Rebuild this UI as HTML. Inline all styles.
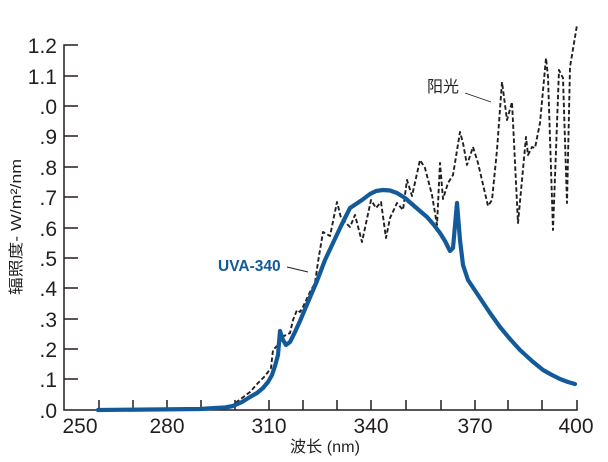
<!DOCTYPE html>
<html>
<head>
<meta charset="utf-8">
<style>
  html,body{margin:0;padding:0;background:#fff;}
  svg{display:block;}
  .tk{font-family:"Liberation Sans","Noto Sans CJK SC",sans-serif;font-size:21px;fill:#231f20;}
</style>
</head>
<body>
<svg width="608" height="462" viewBox="0 0 608 462" xmlns="http://www.w3.org/2000/svg">
  <rect width="608" height="462" fill="#fff"/>
  <!-- axes -->
  <g stroke="#231f20" stroke-width="1.5" fill="none">
    <path d="M78,45 H64 V410 H577 V400"/>
    <path d="M64,76 H78 M64,106 H78 M64,136 H78 M64,167 H78 M64,197 H78 M64,228 H78 M64,258 H78 M64,288 H78 M64,319 H78 M64,349 H78 M64,379 H78"/>
    <path d="M99,410 V400 M133,410 V400 M167,410 V400 M201,410 V400 M235,410 V400 M269,410 V400 M303,410 V400 M337,410 V400 M371,410 V400 M406,410 V400 M441,410 V400 M475,410 V400 M508,410 V400 M542,410 V400"/>
  </g>
  <!-- y tick labels -->
  <g class="tk" text-anchor="end">
    <text x="57" y="53">1.2</text>
    <text x="57" y="84">1.1</text>
    <text x="57" y="114">.0</text>
    <text x="57" y="144">.9</text>
    <text x="57" y="175">.8</text>
    <text x="57" y="205">.7</text>
    <text x="57" y="236">.6</text>
    <text x="57" y="266">.5</text>
    <text x="57" y="296">.4</text>
    <text x="57" y="327">.3</text>
    <text x="57" y="357">.2</text>
    <text x="57" y="387">.1</text>
    <text x="57" y="418">.0</text>
  </g>
  <!-- x tick labels -->
  <g class="tk" text-anchor="middle">
    <text x="80" y="433">250</text>
    <text x="167" y="433">280</text>
    <text x="269" y="433">310</text>
    <text x="371" y="433">340</text>
    <text x="475" y="433">370</text>
    <text x="576" y="433">400</text>
  </g>
  <!-- axis titles -->
  <text x="325" y="452" text-anchor="middle" font-family="Liberation Sans, Noto Sans CJK SC, sans-serif" font-size="16" fill="#231f20" textLength="70" lengthAdjust="spacingAndGlyphs">波长 (nm)</text>
  <text transform="translate(21,227) rotate(-90)" text-anchor="middle" font-family="Liberation Sans, Noto Sans CJK SC, sans-serif" font-size="15" fill="#231f20" textLength="136" lengthAdjust="spacingAndGlyphs">辐照度- W/m²/nm</text>

  <!-- sunlight dashed -->
  <polyline fill="none" stroke="#231f20" stroke-width="1.9" stroke-dasharray="4.5,2.5" stroke-linejoin="round"
    points="230,407 250,392 258,383 265,376 271,368 273,350 278,345 282,337 290,333 293,320 297,310 300,312 303,307 310,292 315,283 318,262 323,232 330,236 337,202 341,218 347,224 350,227 355,215 362,242 371,200 376,208 381,202 386,238 390,218 397,203 403,210 407,180 412,196 420,160 425,168 432,195 437,225 440,163 443,199 448,183 453,175 460,132 463,143 467,165 473,147 478,163 488,206 492,200 497,150 502,82 507,120 512,102 518,223 526,137 528,155 532,147 535,148 540,123 546,58 548,77 553,230 559,70 563,78 567,203 570,67 577,25"/>

  <!-- UVA-340 blue -->
  <polyline fill="none" stroke="#135a9a" stroke-width="4.2" stroke-linejoin="round" stroke-linecap="round"
    points="98,410 200,409 215,408 225,407.5 233,406 242,402 250,397 257,393 263,388 268,382 272,375 275,366 278,355 280,331 283,340 286,345 290,342 295,332 300,321 308,302 317,281 325,260 333,243 341,226 350,208 356,204 362,200 370,194 376,191 383,190 390,190.5 397,193 405,198 413,205 420,211 427,217 434,225 440,233 445,241 450,251 453,248 457,203 460,240 463,265 468,280 474,289 480,298 490,313 500,327 510,339 520,350 532,361 543,370 552,375 560,379 568,382 575,384"/>

  <!-- annotations -->
  <text x="218" y="271" font-family="Liberation Sans, sans-serif" font-size="15.5" font-weight="bold" fill="#135a9a">UVA-340</text>
  <line x1="287" y1="267" x2="308" y2="272" stroke="#231f20" stroke-width="0.9"/>
  <text x="427" y="92" font-family="Liberation Sans, Noto Sans CJK SC, sans-serif" font-size="16" fill="#231f20">阳光</text>
  <line x1="465" y1="93" x2="491" y2="102" stroke="#231f20" stroke-width="0.9"/>
</svg>
</body>
</html>
